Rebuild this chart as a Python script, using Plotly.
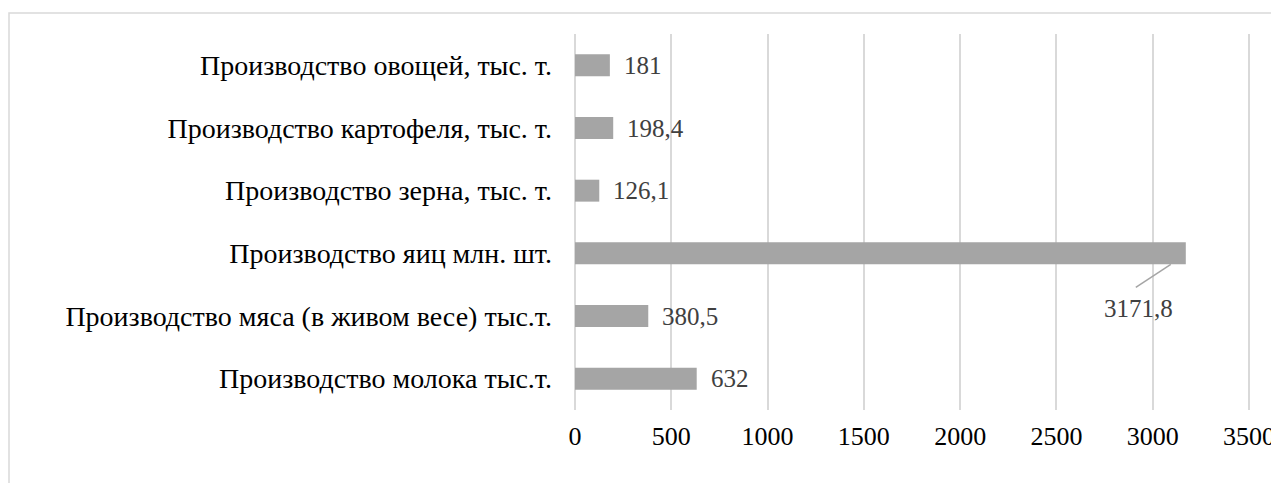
import plotly.graph_objects as go

categories = [
    "Производство молока тыс.т.",
    "Производство мяса (в живом весе) тыс.т.",
    "Производство яиц млн. шт.",
    "Производство зерна, тыс. т.",
    "Производство картофеля, тыс. т.",
    "Производство овощей, тыс. т.",
]
values = [632, 380.5, 3171.8, 126.1, 198.4, 181]
value_labels = ["632", "380,5", "3171,8", "126,1", "198,4", "181"]
tick_vals = [0, 500, 1000, 1500, 2000, 2500, 3000, 3500]

# the page body keeps its default 8px margin
PAGE_OFF = 8
W, H = 1279 - PAGE_OFF, 491 - 2 * PAGE_OFF
X0_PX, X3500_PX = 575, 1249          # page pixels of 0 and of the last tick
EXTRA = 3                            # keep the last gridline inside the plot
L = X0_PX - PAGE_OFF
T = 34 - PAGE_OFF
R = W - (X3500_PX + EXTRA - PAGE_OFF)
B = H - (410 - PAGE_OFF)
pw, ph = W - L - R, H - T - B
ppx = tick_vals[-1] / (X3500_PX - X0_PX)   # data units per pixel
x_max = ppx * pw
FONT = "Liberation Serif, Times New Roman, serif"

fig = go.Figure()
fig.add_trace(go.Bar(
    y=categories, x=values, orientation="h",
    marker=dict(color="#A5A5A5", line=dict(width=0)),
    width=0.35, hoverinfo="skip",
))

big = max(range(len(values)), key=lambda i: values[i])
for i, (v, lab) in enumerate(zip(values, value_labels)):
    if i == big:
        continue
    fig.add_annotation(x=v, y=categories[i], text=lab, showarrow=False,
                       xanchor="left", xshift=12,
                       font=dict(family=FONT, size=25, color="#404040"))

# label for the long bar, placed below with a leader line
cat_px = ph / len(categories)
bv = values[big]
fig.add_shape(type="line", xref="x", yref="y",
              x0=bv - 15 * ppx, y0=big - 11 / cat_px,
              x1=bv - 50 * ppx, y1=big - 34 / cat_px,
              line=dict(color="#A5A5A5", width=1.5))
fig.add_annotation(x=bv - 47 * ppx, y=big - 55 / cat_px, text=value_labels[big],
                   showarrow=False, xanchor="center", yanchor="middle",
                   font=dict(family=FONT, size=25, color="#404040"))

# outer chart border
fig.add_shape(type="rect", xref="paper", yref="paper",
              x0=(9 - PAGE_OFF - L) / pw, x1=(1278 - PAGE_OFF - L) / pw,
              y0=(H - B - 520) / ph, y1=(H - B - (13 - PAGE_OFF)) / ph,
              line=dict(color="#D9D9D9", width=1.5), layer="below")

fig.update_layout(
    width=W, height=H,
    margin=dict(l=L, r=R, t=T, b=B, autoexpand=False),
    plot_bgcolor="white", paper_bgcolor="white",
    showlegend=False,
    font=dict(family=FONT, size=26, color="#000000"),
    xaxis=dict(range=[0, x_max], tickvals=tick_vals,
               ticktext=[str(t) for t in tick_vals],
               showgrid=True, gridcolor="#D9D9D9", gridwidth=1.5,
               zeroline=True, zerolinecolor="#D9D9D9", zerolinewidth=1.5,
               showline=False, ticks="", ticklen=0,
               ticklabelstandoff=8, automargin=False,
               ticklabeloverflow="allow",
               tickfont=dict(family=FONT, size=26, color="#000000")),
    yaxis=dict(showgrid=False, zeroline=False, showline=False, ticks="",
               ticklabelstandoff=22, automargin=False,
               tickfont=dict(family=FONT, size=28, color="#000000")),
)

fig.write_html("out.html", config=dict(displayModeBar=False))
